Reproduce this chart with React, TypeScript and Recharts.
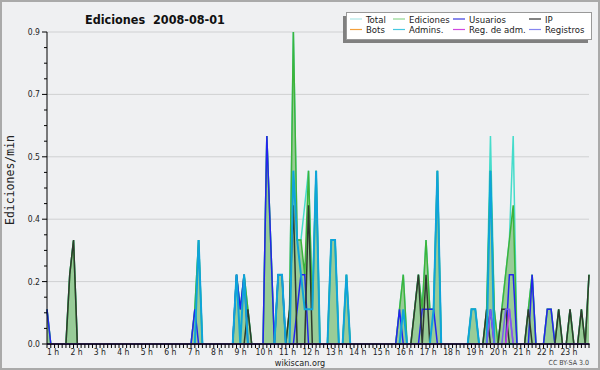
import React from 'react';
import { Area, CartesianGrid, ComposedChart, Line, XAxis, YAxis } from 'recharts';

// 10-minute slots, 00:00 .. 23:50
const SLOTS = [...Array(144).keys()];

// edits per minute, one row per hour (6 slots)
const total = [
  0.1, 0, 0, 0, 0, 0,
  0.2, 0.3, 0, 0, 0, 0,
  0, 0, 0, 0, 0, 0,
  0, 0, 0, 0, 0, 0,
  0, 0, 0, 0, 0, 0,
  0, 0, 0, 0, 0, 0,
  0, 0, 0, 0.1, 0.3, 0,
  0, 0, 0, 0, 0, 0,
  0, 0, 0.2, 0.1, 0.2, 0.1,
  0, 0, 0, 0, 0.6, 0.3,
  0, 0.2, 0.2, 0, 0.1, 0.9,
  0.3, 0.3, 0.4, 0.5, 0.1, 0.5,
  0, 0, 0, 0.3, 0.3, 0,
  0, 0.2, 0, 0, 0, 0,
  0, 0, 0, 0, 0, 0,
  0, 0, 0, 0.1, 0.2, 0,
  0, 0.1, 0.2, 0.1, 0.3, 0.1,
  0.1, 0.5, 0, 0, 0, 0,
  0, 0, 0, 0, 0.1, 0.1,
  0, 0, 0.1, 0.6, 0.1, 0,
  0.1, 0.2, 0.3, 0.6, 0, 0,
  0, 0.1, 0.2, 0, 0, 0,
  0.1, 0.1, 0, 0.1, 0, 0,
  0.1, 0, 0, 0.1, 0, 0.2,
];

const ediciones = [
  0.1, 0, 0, 0, 0, 0,
  0.2, 0.3, 0, 0, 0, 0,
  0, 0, 0, 0, 0, 0,
  0, 0, 0, 0, 0, 0,
  0, 0, 0, 0, 0, 0,
  0, 0, 0, 0, 0, 0,
  0, 0, 0, 0.1, 0.3, 0,
  0, 0, 0, 0, 0, 0,
  0, 0, 0.2, 0.1, 0.2, 0.1,
  0, 0, 0, 0, 0.6, 0.3,
  0, 0.2, 0.2, 0, 0.1, 0.9,
  0.3, 0.3, 0.2, 0.5, 0.1, 0.5,
  0, 0, 0, 0.3, 0.3, 0,
  0, 0.2, 0, 0, 0, 0,
  0, 0, 0, 0, 0, 0,
  0, 0, 0, 0.1, 0.2, 0,
  0, 0.1, 0.2, 0.1, 0.3, 0.1,
  0.1, 0.5, 0, 0, 0, 0,
  0, 0, 0, 0, 0.1, 0.1,
  0, 0, 0.1, 0.5, 0.1, 0,
  0.1, 0.2, 0.3, 0.4, 0, 0,
  0, 0.1, 0.2, 0, 0, 0,
  0.1, 0.1, 0, 0.1, 0, 0,
  0.1, 0, 0, 0.1, 0, 0.2,
];

const usuarios = [
  0.1, 0, 0, 0, 0, 0,
  0, 0, 0, 0, 0, 0,
  0, 0, 0, 0, 0, 0,
  0, 0, 0, 0, 0, 0,
  0, 0, 0, 0, 0, 0,
  0, 0, 0, 0, 0, 0,
  0, 0, 0, 0.1, 0, 0,
  0, 0, 0, 0, 0, 0,
  0, 0, 0.2, 0.1, 0.2, 0,
  0, 0, 0, 0, 0.6, 0.3,
  0, 0.2, 0.2, 0, 0, 0,
  0.1, 0.2, 0.2, 0, 0, 0,
  0, 0, 0, 0, 0, 0,
  0, 0, 0, 0, 0, 0,
  0, 0, 0, 0, 0, 0,
  0, 0, 0, 0.1, 0, 0,
  0, 0, 0, 0.1, 0.1, 0.1,
  0.1, 0, 0, 0, 0, 0,
  0, 0, 0, 0, 0, 0,
  0, 0, 0, 0.1, 0, 0,
  0, 0, 0.2, 0.2, 0, 0,
  0, 0, 0.2, 0, 0, 0,
  0.1, 0.1, 0, 0, 0, 0,
  0, 0, 0, 0, 0, 0,
];

const ip = [
  0, 0, 0, 0, 0, 0,
  0.2, 0.3, 0, 0, 0, 0,
  0, 0, 0, 0, 0, 0,
  0, 0, 0, 0, 0, 0,
  0, 0, 0, 0, 0, 0,
  0, 0, 0, 0, 0, 0,
  0, 0, 0, 0, 0, 0,
  0, 0, 0, 0, 0, 0,
  0, 0, 0, 0, 0, 0.1,
  0, 0, 0, 0, 0, 0,
  0, 0, 0, 0, 0.1, 0.4,
  0, 0, 0, 0.4, 0, 0,
  0, 0, 0, 0, 0, 0,
  0, 0, 0, 0, 0, 0,
  0, 0, 0, 0, 0, 0,
  0, 0, 0, 0, 0, 0,
  0, 0.1, 0.2, 0, 0.2, 0,
  0, 0, 0, 0, 0, 0,
  0, 0, 0, 0, 0, 0,
  0, 0, 0.1, 0, 0, 0,
  0.1, 0.1, 0, 0, 0, 0,
  0, 0.1, 0, 0, 0, 0,
  0, 0, 0, 0.1, 0, 0,
  0.1, 0, 0, 0.1, 0, 0.2,
];

const admins = [
  0, 0, 0, 0, 0, 0,
  0, 0, 0, 0, 0, 0,
  0, 0, 0, 0, 0, 0,
  0, 0, 0, 0, 0, 0,
  0, 0, 0, 0, 0, 0,
  0, 0, 0, 0, 0, 0,
  0, 0, 0, 0, 0.3, 0,
  0, 0, 0, 0, 0, 0,
  0, 0, 0.2, 0, 0.2, 0,
  0, 0, 0, 0, 0, 0,
  0, 0.2, 0.2, 0, 0, 0.5,
  0.3, 0.2, 0.1, 0.1, 0.1, 0.5,
  0, 0, 0, 0.3, 0.3, 0,
  0, 0.2, 0, 0, 0, 0,
  0, 0, 0, 0, 0, 0,
  0, 0, 0, 0, 0.1, 0,
  0, 0, 0, 0, 0, 0,
  0.1, 0.5, 0, 0, 0, 0,
  0, 0, 0, 0, 0.1, 0.1,
  0, 0, 0, 0.5, 0, 0,
  0, 0, 0, 0, 0, 0,
  0, 0, 0, 0, 0, 0,
  0, 0, 0, 0, 0, 0,
  0, 0, 0, 0, 0, 0,
];

// sparse series: slot -> value
const regAdm: Record<number, number> = { 122: 0.1 };
const registros: Record<number, number> = { 117: 0.1, 121: 0.1, 122: 0.1 };

const Y_TICKS = [
  0, 0.045, 0.09, 0.135, 0.18, 0.225, 0.27, 0.315, 0.36, 0.405, 0.45,
  0.495, 0.54, 0.585, 0.63, 0.675, 0.72, 0.765, 0.81, 0.855, 0.9,
];
const Y_GRID = [0.18, 0.36, 0.54, 0.72, 0.9];
const HOUR_LABELS = [
  '1 h', '2 h', '3 h', '4 h', '5 h', '6 h', '7 h', '8 h', '9 h', '10 h', '11 h', '12 h',
  '13 h', '14 h', '15 h', '16 h', '17 h', '18 h', '19 h', '20 h', '21 h', '22 h', '23 h',
];

const COLORS = {
  total: '#45dccb',
  edicStroke: '#3cb43c',
  edicFill: '#98cc98',
  usuarios: '#2424f0',
  ip: '#2e3a2e',
  admins: '#0ea4da',
  regAdm: '#c63ad8',
  registros: '#7a5cf0',
  bg: '#eff0f2',
  grid: '#cfd0d2',
  text: '#222',
};

const LEGEND = [
  { name: 'Total', color: '#aee6e6', x: 350, row: 0 },
  { name: 'Ediciones', color: '#8fd68f', x: 393, row: 0 },
  { name: 'Usuarios', color: '#3a3ae0', x: 453, row: 0 },
  { name: 'IP', color: '#303030', x: 529, row: 0 },
  { name: 'Bots', color: '#f3a03c', x: 350, row: 1 },
  { name: 'Admins.', color: '#46c8e0', x: 393, row: 1 },
  { name: 'Reg. de adm.', color: '#d048e0', x: 453, row: 1 },
  { name: 'Registros', color: '#8686f0', x: 529, row: 1 },
];

const data = SLOTS.map((slot, i) => ({
  slot,
  total: total[i],
  ediciones: ediciones[i],
  usuarios: usuarios[i],
  ip: ip[i],
  admins: admins[i],
  regAdm: regAdm[i] ?? 0,
  registros: registros[i] ?? 0,
}));

const FONT = "'DejaVu Sans Condensed', 'DejaVu Sans', sans-serif";

function XTick({ x, y, payload }: any) {
  const v = payload.value as number;
  const hour = v / 6;
  return (
    <g>
      <line x1={x} y1={y} x2={x} y2={y + 4} stroke="#000" />
      {v % 6 === 0 && hour < HOUR_LABELS.length && (
        <text
          x={x + 6 + 0.71 * hour}
          y={y + 11}
          textAnchor="middle"
          fontFamily={FONT}
          fontStretch="condensed"
          fontSize={8.5}
          fill={COLORS.text}
        >
          {HOUR_LABELS[hour]}
        </text>
      )}
    </g>
  );
}

function YTick({ x, y, payload, index }: any) {
  const major = index % 4 === 0;
  return (
    <g>
      <line x1={x - (major ? 5 : 3)} y1={y} x2={x} y2={y} stroke="#000" />
      {major && (
        <text
          x={x - 7}
          y={y + 3}
          textAnchor="end"
          fontFamily={FONT}
          fontStretch="condensed"
          fontSize={8.5}
          fill={COLORS.text}
        >
          {(payload.value as number).toFixed(1)}
        </text>
      )}
    </g>
  );
}

export default function App() {
  return (
    <div
      style={{
        position: 'relative',
        width: 600,
        height: 370,
        background: COLORS.bg,
        boxShadow: 'inset 0 0 0 2px #aaa',
      }}
    >
      <style>{'body{margin:0}'}</style>
      <ComposedChart
        width={600}
        height={370}
        data={data}
        margin={{ top: 32, right: 11, left: 17, bottom: 0 }}
      >
        <CartesianGrid horizontalValues={Y_GRID} vertical={false} stroke={COLORS.grid} />
        <XAxis
          dataKey="slot"
          type="number"
          domain={[0, 143]}
          ticks={SLOTS}
          interval={0}
          height={26}
          tickSize={0}
          tickMargin={0}
          tickLine={false}
          axisLine={{ stroke: '#000' }}
          tick={<XTick />}
        />
        <YAxis
          type="number"
          domain={[0, 0.9]}
          ticks={Y_TICKS}
          interval={0}
          width={30}
          tickSize={0}
          tickMargin={0}
          tickLine={false}
          axisLine={{ stroke: '#000' }}
          tick={<YTick />}
        />
        {/* Total as an unfilled area so the Ediciones fill sits on top of it */}
        <Area
          type="linear"
          dataKey="total"
          stroke={COLORS.total}
          strokeWidth={1.5}
          fill="none"
          fillOpacity={0}
          isAnimationActive={false}
        />
        <Area
          type="linear"
          dataKey="ediciones"
          stroke={COLORS.edicStroke}
          strokeWidth={1.5}
          fill={COLORS.edicFill}
          fillOpacity={1}
          isAnimationActive={false}
        />
        <Line type="linear" dataKey="usuarios" stroke={COLORS.usuarios} strokeWidth={1.5} dot={false} isAnimationActive={false} />
        <Line type="linear" dataKey="ip" stroke={COLORS.ip} strokeWidth={1.5} dot={false} isAnimationActive={false} />
        <Line type="linear" dataKey="admins" stroke={COLORS.admins} strokeWidth={2} dot={false} isAnimationActive={false} />
        <Line type="linear" dataKey="regAdm" stroke={COLORS.regAdm} strokeWidth={1.5} dot={false} isAnimationActive={false} />
        <Line type="linear" dataKey="registros" stroke={COLORS.registros} strokeWidth={1.5} dot={false} isAnimationActive={false} />
      </ComposedChart>

      <svg
        width={600}
        height={370}
        style={{ position: 'absolute', left: 0, top: 0, pointerEvents: 'none' }}
        fontFamily={FONT}
        fontStretch="condensed"
      >
        <line x1={47} y1={344} x2={590} y2={344} stroke="#000" />
        <text x={85} y={23.5} fontSize={12.5} fontWeight="bold" fill="#111" style={{ whiteSpace: 'pre' }}>
          {'Ediciones  2008-08-01'}
        </text>
        <text
          transform="translate(14,180) rotate(-90)"
          textAnchor="middle"
          fontFamily="'DejaVu Sans Mono', monospace"
          fontSize={11.5}
          fill={COLORS.text}
        >
          Ediciones/min
        </text>
        <text x={300} y={366} textAnchor="middle" fontSize={9} fill={COLORS.text}>
          wikiscan.org
        </text>
        <text x={589} y={365} textAnchor="end" fontSize={7} fill="#444">
          CC BY-SA 3.0
        </text>

        <rect x={343} y={16} width={245} height={27} fill="#808080" />
        <rect x={346.5} y={12.5} width={245} height={27} fill="#fff" stroke="#999" />
        {LEGEND.map((item) => {
          const cy = item.row === 0 ? 19 : 29.5;
          return (
            <g key={item.name}>
              <line x1={item.x} y1={cy} x2={item.x + 12} y2={cy} stroke={item.color} strokeWidth={1.2} />
              <text x={item.x + 16} y={cy + 3.5} fontSize={9.5} fill={COLORS.text}>
                {item.name}
              </text>
            </g>
          );
        })}
      </svg>
    </div>
  );
}
